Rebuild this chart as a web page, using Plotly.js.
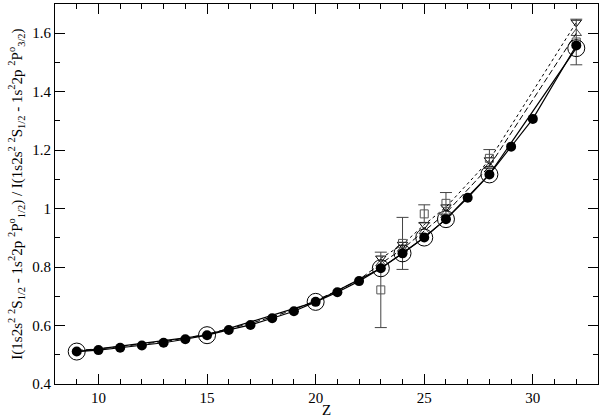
<!DOCTYPE html>
<html><head><meta charset="utf-8">
<script src="https://cdn.plot.ly/plotly-3.0.1.min.js"></script>
<style>body{margin:0;background:#fff}#c{width:600px;height:418px}</style>
</head><body><div id="c"></div>
<script>
// Filled circles (solid line)
const zDots = [9,10,11,12,13,14,15,16,17,18,19,20,21,22,23,24,25,26,27,28,29,30,32];
const rDots = [0.511,0.516,0.524,0.532,0.541,0.553,0.567,0.585,0.602,0.625,0.649,0.681,0.714,0.752,0.796,0.847,0.901,0.964,1.037,1.117,1.212,1.307,1.558];
// Open circles (solid line)
const zOpen = [9,15,20,23,24,25,26,28,32];
const rOpen = [0.511,0.567,0.681,0.796,0.847,0.901,0.964,1.117,1.549];
// Dashed line (no markers at low Z) ending with up-triangles
const zDash = [9,10,11,12,13,14,15,16,17,18,19,20,21,22,23,24,25,26,28,32];
const rDash = [0.515,0.520,0.528,0.536,0.545,0.557,0.571,0.589,0.607,0.630,0.654,0.686,0.719,0.757,0.812,0.862,0.922,0.985,1.145,1.600];
// Down triangles (dotted line)
const zTriDown = [23,24,25,26,28,32];
const rTriDown = [0.830,0.877,0.945,1.005,1.166,1.637];
// Squares with error bars
const zSq = [23,24,25,26,28,32];
const rSq = [0.722,0.881,0.982,1.018,1.172,1.570];
const eSq = [0.129,0.089,0.031,0.037,0.030,0.078];

const serif = '"Liberation Serif", "Times New Roman", Times, serif';
const traces = [
  {x: zDash, y: rDash, mode: 'lines+markers',
   line: {color: '#000', width: 1, dash: '6px,3px'},
   marker: {symbol: 'triangle-up-open', size: zDash.map(z => z >= 23 ? 9 : 0), color: '#000', line: {width: 1, color: '#000'}}},
  {x: zTriDown, y: rTriDown, mode: 'lines+markers',
   line: {color: '#000', width: 1, dash: 'dot'},
   marker: {symbol: 'triangle-down-open', size: 9, color: '#000', line: {width: 1}}},
  {x: zSq, y: rSq, mode: 'markers',
   marker: {symbol: 'square-open', size: 8, color: '#555', line: {width: 1}},
   error_y: {type: 'data', array: eSq, visible: true, color: '#444', thickness: 1, width: 6}},
  {x: zOpen, y: rOpen, mode: 'lines+markers',
   line: {color: '#000', width: 1.2},
   marker: {symbol: 'circle-open', size: 17, color: '#000', line: {width: 1}}},
  {x: zDots, y: rDots, mode: 'lines+markers',
   line: {color: '#000', width: 1.2},
   marker: {symbol: 'circle', size: 10, color: '#000'}}
];

const axisFont = {family: serif, size: 15, color: '#000'};
const layout = {
  width: 600, height: 418,
  margin: {l: 55, r: 2, t: 4, b: 34},
  paper_bgcolor: '#fff', plot_bgcolor: '#fff',
  showlegend: false,
  font: axisFont,
  xaxis: {
    range: [8, 33], tickvals: [10,15,20,25,30], ticks: 'inside', ticklen: 10, tickwidth: 1,
    tickcolor: '#000', showgrid: false, zeroline: false, showline: true, linecolor: '#000',
    linewidth: 1, mirror: 'ticks', tickfont: axisFont,
    minor: {dtick: 1, ticks: 'inside', ticklen: 5, tickcolor: '#000', showgrid: false},
    title: {text: 'Z', font: axisFont, standoff: 4}
  },
  yaxis: {
    range: [0.4, 1.7], tickvals: [0.4,0.6,0.8,1,1.2,1.4,1.6], ticktext: ['0.4','0.6','0.8','1','1.2','1.4','1.6'],
    ticks: 'inside', ticklen: 10, tickwidth: 1,
    tickcolor: '#000', showgrid: false, zeroline: false, showline: true, linecolor: '#000',
    linewidth: 1, mirror: 'ticks', tickfont: axisFont,
    minor: {dtick: 0.1, ticks: 'inside', ticklen: 5, tickcolor: '#000', showgrid: false},
    title: {text: 'I(1s2s<sup>2</sup> <sup>2</sup>S<sub>1/2</sub> - 1s<sup>2</sup>2p <sup>2</sup>P<sup>o</sup><sub>1/2</sub>) / I(1s2s<sup>2</sup> <sup>2</sup>S<sub>1/2</sub> - 1s<sup>2</sup>2p <sup>2</sup>P<sup>o</sup><sub>3/2</sub>)',
           font: {family: serif, size: 15, color: '#000'}, standoff: 6}
  }
};
Plotly.newPlot('c', traces, layout, {staticPlot: true, displayModeBar: false});
</script></body></html>
